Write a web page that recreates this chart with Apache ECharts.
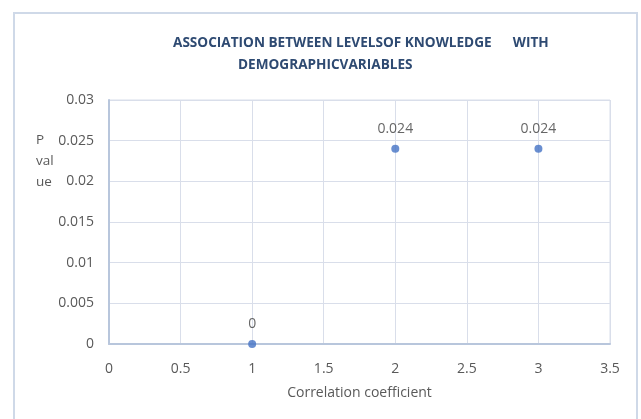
<!DOCTYPE html>
<html>
<head>
<meta charset="utf-8">
<script src="https://cdn.jsdelivr.net/npm/echarts@6/dist/echarts.min.js"></script>
<style>
  html, body { margin: 0; padding: 0; background: #ffffff; }
  #chart { width: 641px; height: 419px; }
</style>
</head>
<body>
<div id="chart"></div>
<script>
// Correlation coefficient vs P value
const xValues = [1, 2, 3];
const pValues = [0, 0.024, 0.024];
const pointLabels = ['0', '0.024', '0.024'];

const titleLine1 = 'ASSOCIATION BETWEEN LEVELSOF KNOWLEDGE      WITH';
const titleLine2 = 'DEMOGRAPHICVARIABLES';
const xAxisName = 'Correlation coefficient';
const yAxisName = 'P\nval\nue';

const points = xValues.map((x, i) => [x, pValues[i]]);

const textColor = '#595959';
const gridColor = '#D9DEEA';
const axisColor = '#B8C6DC';
const font = 'Open Sans';

const chart = echarts.init(document.getElementById('chart'), null, { renderer: 'canvas' });

chart.setOption({
  backgroundColor: '#ffffff',
  animation: false,
  title: [
    {
      text: titleLine1,
      left: 168, top: 31,
      textStyle: { fontFamily: font, fontWeight: 'bold', fontSize: 13.6, color: '#2E4A72' }
    },
    {
      text: titleLine2,
      left: 233, top: 53,
      textStyle: { fontFamily: font, fontWeight: 'bold', fontSize: 13.6, color: '#2E4A72' }
    }
  ],
  graphic: [
    {
      type: 'rect',
      shape: { x: 14, y: 13, width: 623, height: 420 },
      style: { fill: 'none', stroke: '#CFD9E8', lineWidth: 2 },
      silent: true
    },
    {
      type: 'text',
      left: 36, top: 130,
      style: { text: yAxisName, fill: textColor, font: '13.5px "' + font + '"', lineHeight: 21 }
    }
  ],
  grid: { left: 109, right: 31, top: 100, bottom: 75, show: true, borderColor: gridColor, borderWidth: 1 },
  xAxis: {
    type: 'value',
    min: 0, max: 3.5, interval: 0.5,
    name: xAxisName,
    nameLocation: 'middle',
    nameGap: 42,
    nameTextStyle: { fontFamily: font, fontSize: 14, color: textColor },
    axisLine: { show: true, onZero: false, lineStyle: { color: axisColor, width: 2 } },
    axisTick: { show: false },
    axisLabel: { fontFamily: font, fontSize: 14, color: textColor, margin: 18 },
    splitLine: { show: true, lineStyle: { color: gridColor, width: 1 } }
  },
  yAxis: {
    type: 'value',
    min: 0, max: 0.03, interval: 0.005,
    axisLine: { show: true, lineStyle: { color: axisColor, width: 2 } },
    axisTick: { show: false },
    axisLabel: { fontFamily: font, fontSize: 14, color: textColor, margin: 15 },
    splitLine: { show: true, lineStyle: { color: gridColor, width: 1 } }
  },
  series: [
    {
      type: 'scatter',
      data: points,
      symbol: 'circle',
      symbolSize: 8,
      itemStyle: { color: '#4472C4' },
      label: {
        show: true,
        position: 'top',
        distance: 9,
        formatter: p => pointLabels[p.dataIndex],
        fontFamily: font,
        fontSize: 14,
        color: '#404040'
      }
    }
  ]
});
</script>
</body>
</html>
